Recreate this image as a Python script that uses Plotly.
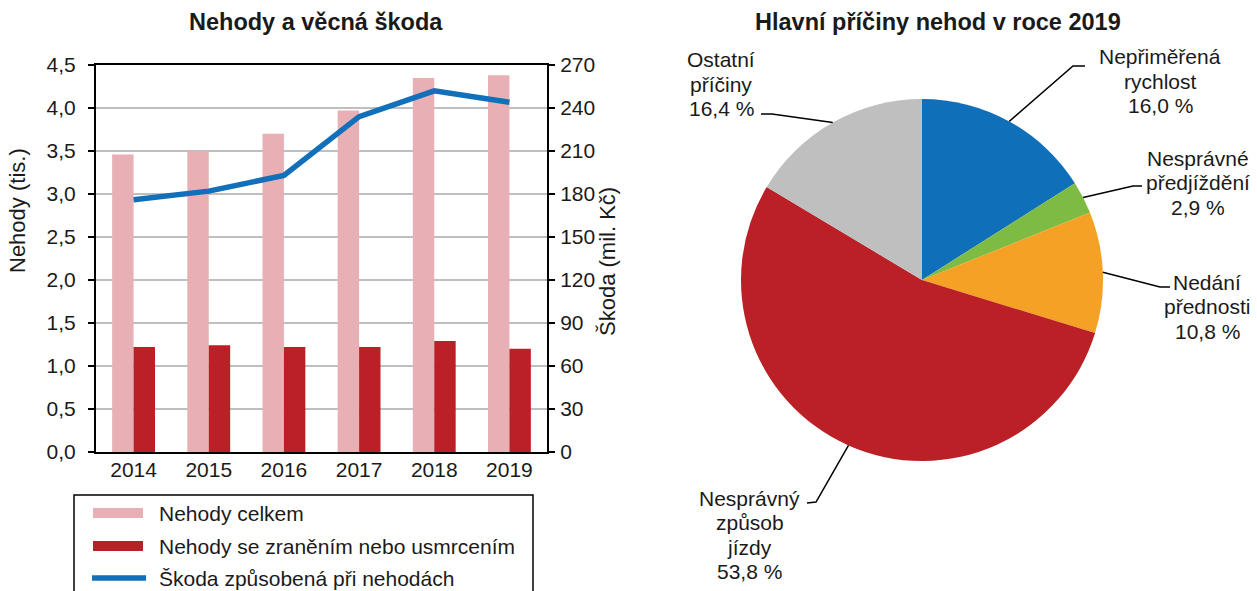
import math
import plotly.graph_objects as go

# ---- data -------------------------------------------------------------
years = ["2014", "2015", "2016", "2017", "2018", "2019"]
nehody_celkem = [3.46, 3.50, 3.70, 3.97, 4.35, 4.38]          # tis.
nehody_zraneni = [1.22, 1.24, 1.22, 1.22, 1.29, 1.20]         # tis.
skoda = [176, 182, 193, 234, 252, 244]                        # mil. Kč

series_names = [
    "Nehody celkem",
    "Nehody se zraněním nebo usmrcením",
    "Škoda způsobená při nehodách",
]

priciny = [
    ["Nepřiměřená", "rychlost"],
    ["Nesprávné", "předjíždění"],
    ["Nedání", "přednosti"],
    ["Nesprávný", "způsob", "jízdy"],
    ["Ostatní", "příčiny"],
]
podily = [16.0, 2.9, 10.8, 53.8, 16.4]                        # %

# ---- styling ----------------------------------------------------------
W, H = 1257, 591
FONT = "Liberation Sans, Arial, sans-serif"
TXT = "#1a1a1a"
PINK = "#E8B0B4"
DARKRED = "#BA2025"
LINEBLUE = "#1170B9"
pie_colors = ["#0F6FB8", "#7DBB42", "#F5A125", "#BA2025", "#BFBFBF"]
FS = 21


def px(x):
    return x / W


def py(y):
    return 1 - y / H


fig = go.Figure()

# ---- left: bars + line -------------------------------------------------
fig.add_trace(go.Bar(x=years, y=nehody_celkem, name=series_names[0],
                     marker=dict(color=PINK, line=dict(width=0)),
                     xaxis="x", yaxis="y", showlegend=False))
fig.add_trace(go.Bar(x=years, y=nehody_zraneni, name=series_names[1],
                     marker=dict(color=DARKRED, line=dict(width=0)),
                     xaxis="x", yaxis="y", showlegend=False))
fig.add_trace(go.Scatter(x=years, y=skoda, name=series_names[2],
                         mode="lines", line=dict(color=LINEBLUE, width=5.5),
                         xaxis="x", yaxis="y2", showlegend=False))

# ---- right: pie ---------------------------------------------------------
cx, cy, r = 922, 280, 181
fig.add_trace(go.Pie(labels=[" ".join(p) for p in priciny],
                     values=podily, sort=False, direction="clockwise",
                     rotation=0, textinfo="none", hole=0,
                     marker=dict(colors=pie_colors, line=dict(width=0)),
                     domain=dict(x=[px(cx - r), px(cx + r)],
                                 y=[py(cy + r), py(cy - r)]),
                     showlegend=False))

tick_font = dict(family=FONT, size=FS, color=TXT)

fig.update_layout(
    width=W, height=H,
    margin=dict(l=0, r=0, t=0, b=0, pad=0, autoexpand=False),
    paper_bgcolor="white", plot_bgcolor="white",
    separators=", ",
    barmode="group", bargap=0.43, bargroupgap=0,
    font=dict(family=FONT, size=FS, color=TXT),
    xaxis=dict(domain=[px(96), px(547)], type="category", automargin=False,
               showline=True, mirror=True, linecolor="black", linewidth=2,
               ticks="", tickfont=tick_font, showgrid=False, fixedrange=True,
               ticklabelstandoff=-2),
    yaxis=dict(domain=[py(452), py(65)], range=[0, 4.5], dtick=0.5,
               automargin=False, tickformat=".1f", tickfont=tick_font,
               showgrid=True, gridcolor="#BFBFBF", gridwidth=1.5,
               showline=True, linecolor="black", linewidth=2,
               ticks="outside", ticklen=6, tickwidth=2, tickcolor="black",
               ticklabelstandoff=8, zeroline=False, fixedrange=True),
    yaxis2=dict(overlaying="y", side="right", anchor="x", automargin=False,
                range=[0, 270], dtick=30, tickfont=tick_font,
                showgrid=False, showline=True, linecolor="black", linewidth=2,
                ticks="outside", ticklen=6, tickwidth=2, tickcolor="black",
                ticklabelstandoff=1, zeroline=False, fixedrange=True),
)

annotations = []
shapes = []


def text(x, y, s, size=FS, bold=False, angle=0, xanchor="center"):
    annotations.append(dict(
        x=px(x), y=py(y), xref="paper", yref="paper", text=s,
        showarrow=False, textangle=angle, xanchor=xanchor, yanchor="middle",
        font=dict(family=FONT, size=size, color=TXT,
                  weight="bold" if bold else "normal")))


# titles
text(316, 22, "Nehody a věcná škoda", size=23.5, bold=True)
text(938, 22, "Hlavní příčiny nehod v roce 2019", size=23.5, bold=True)

# axis titles
text(18, 211, "Nehody (tis.)", size=22, angle=-90)
text(607, 262, "Škoda (mil. Kč)", size=22, angle=-90)

# ---- legend box --------------------------------------------------------
shapes.append(dict(type="rect", xref="paper", yref="paper",
                   x0=px(74), x1=px(533), y0=py(620), y1=py(495),
                   line=dict(color="black", width=1.5), fillcolor="white",
                   layer="below"))
legend_rows = [513, 546, 578]
shapes.append(dict(type="rect", xref="paper", yref="paper",
                   x0=px(93), x1=px(143), y0=py(legend_rows[0] + 5),
                   y1=py(legend_rows[0] - 5), fillcolor=PINK,
                   line=dict(width=0)))
shapes.append(dict(type="rect", xref="paper", yref="paper",
                   x0=px(93), x1=px(143), y0=py(legend_rows[1] + 5),
                   y1=py(legend_rows[1] - 5), fillcolor=DARKRED,
                   line=dict(width=0)))
shapes.append(dict(type="line", xref="paper", yref="paper",
                   x0=px(92), x1=px(146), y0=py(legend_rows[2]),
                   y1=py(legend_rows[2]),
                   line=dict(color=LINEBLUE, width=5.5)))
for name, yy in zip(series_names, legend_rows):
    text(157, yy, name, xanchor="left")

# ---- pie labels with leader lines ---------------------------------------
# per slice: label centre x, first text line y, elbow and end of leader
LINE_STEP = 24.5
label_layout = [
    dict(lx=1160, ly=57, elbow=(1073, 66), end=(1085, 66)),
    dict(lx=1198, ly=158, elbow=(1133, 186), end=(1142, 186)),
    dict(lx=1207, ly=282, elbow=(1160, 287), end=(1170, 287)),
    dict(lx=750, ly=498, elbow=(816, 502), end=(807, 503)),
    dict(lx=721, ly=60, elbow=(772, 114), end=(761, 114)),
]

total = sum(podily)
cum = 0.0
for words, val, lay in zip(priciny, podily, label_layout):
    theta = 2 * math.pi * (cum + val / 2) / total
    cum += val
    ex = cx + r * math.sin(theta)
    ey = cy - r * math.cos(theta)
    (bx, by), (tx, ty) = lay["elbow"], lay["end"]
    shapes.append(dict(
        type="path", xref="paper", yref="paper",
        path=f"M {px(ex)},{py(ey)} L {px(bx)},{py(by)} L {px(tx)},{py(ty)}",
        line=dict(color="black", width=1.5)))
    lines = words + [f"{val:.1f} %".replace(".", ",")]
    for i, ln in enumerate(lines):
        text(lay["lx"], lay["ly"] + i * LINE_STEP, ln)

fig.update_layout(annotations=annotations, shapes=shapes)

fig.write_html("out.html")
